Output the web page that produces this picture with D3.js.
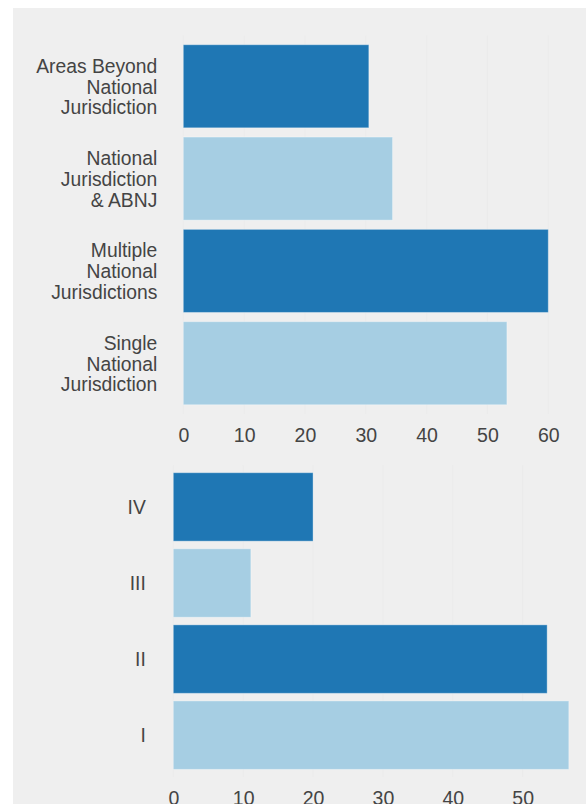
<!DOCTYPE html>
<html><head><meta charset="utf-8">
<script src="https://cdn.jsdelivr.net/npm/d3@7"></script>
<style>
html,body{margin:0;padding:0;background:#fff;}
svg{display:block;}
text{font-family:"Liberation Sans",Arial,sans-serif;}
</style></head>
<body>
<svg id="c" width="586" height="804"></svg>
<script>
// Top chart data
const topCategories = [
  ["Areas Beyond","National","Jurisdiction"],
  ["National","Jurisdiction","& ABNJ"],
  ["Multiple","National","Jurisdictions"],
  ["Single","National","Jurisdiction"]
];
const topValues = [30.5, 34.4, 60, 53.2];
const topTicks = [0,10,20,30,40,50,60];

// Bottom chart data
const bottomCategories = ["IV","III","II","I"];
const bottomValues = [20, 11.1, 53.5, 56.6];
const bottomTicks = [0,10,20,30,40,50];

const colors = ["#1f77b4", "#a6cee3"];

const svg = d3.select("#c");
svg.append("rect").attr("x",13).attr("y",8).attr("width",586-13).attr("height",804-8).attr("fill","#efefef");

function drawChart(cfg){
  const g = svg.append("g");
  const x = d3.scaleLinear().domain([0,60]).range([cfg.x0, cfg.x0 + cfg.pxPerUnit*60]);
  const y = d3.scaleBand().domain(d3.range(cfg.values.length)).range([cfg.y0, cfg.y1]).padding(0.1);
  // faint grid
  g.selectAll(".grid").data(cfg.ticks).join("line")
    .attr("x1", d=>x(d)).attr("x2", d=>x(d))
    .attr("y1", cfg.y0).attr("y2", cfg.y1)
    .attr("stroke","#ebebeb").attr("stroke-width",1);
  g.selectAll(".bar").data(cfg.values).join("rect")
    .attr("x", x(0))
    .attr("y", (d,i)=>y(i))
    .attr("width", d=>x(d)-x(0))
    .attr("height", y.bandwidth())
    .attr("fill", (d,i)=>colors[i%2])
    .attr("stroke","rgba(255,255,255,0.35)")
    .attr("stroke-width",1);
  // y labels
  const lab = g.selectAll(".lab").data(cfg.categories).join("text")
    .attr("text-anchor","end")
    .attr("font-size", cfg.fs)
    .attr("fill","#444");
  lab.each(function(d,i){
    const lines = Array.isArray(d) ? d : [d];
    const t = d3.select(this);
    const cy = y(i) + y.bandwidth()/2;
    const lh = 1.08;
    lines.forEach((ln,j)=>{
      t.append("tspan")
        .attr("x", x(0) - cfg.labGap)
        .attr("y", cy)
        .attr("dy", ((j - (lines.length-1)/2)*lh + 0.38) + "em")
        .text(ln);
    });
  });
  // x axis
  const ax = g.append("g").attr("transform", `translate(0,${cfg.y1})`)
    .call(d3.axisBottom(x).tickValues(cfg.ticks).tickSize(0).tickPadding(14).tickFormat(d3.format("d")));
  ax.select(".domain").remove();
  ax.selectAll("text").attr("font-size", cfg.tfs).attr("fill","#444")
    .style("font-family",'"Liberation Sans",Arial,sans-serif');
}

drawChart({categories: topCategories, values: topValues, ticks: topTicks,
  x0: 183.3, pxPerUnit: 6.083, y0: 35.5, y1: 414, fs: 19.3, tfs: 19.5, labGap: 26});
drawChart({categories: bottomCategories, values: bottomValues, ticks: bottomTicks,
  x0: 173.3, pxPerUnit: 6.988, y0: 465.1, y1: 777, fs: 19.3, tfs: 19.5, labGap: 27.5});
</script>
</body></html>
